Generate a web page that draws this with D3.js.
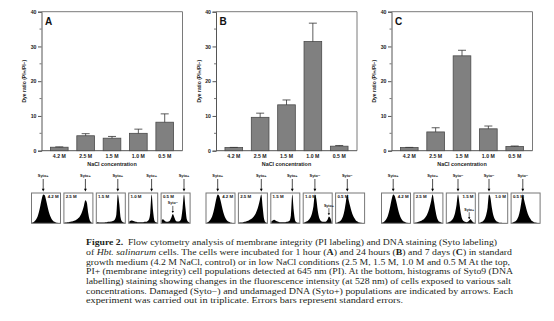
<!DOCTYPE html>
<html><head><meta charset="utf-8">
<script src="https://cdn.jsdelivr.net/npm/d3@7/dist/d3.min.js"></script>
<style>
html,body{margin:0;padding:0;background:#fff;}
svg{display:block;}
text{white-space:pre;}
</style></head>
<body><svg id="fig" width="554" height="321"></svg>
<script>
// ---------- data ----------
const categories = ["4.2 M", "2.5 M", "1.5 M", "1.0 M", "0.5 M"];
const panelLetters = ["A", "B", "C"];
const yTicks = [0, 10, 20, 30, 40];
const yMinorTicks = [5, 15, 25, 35];
const valuesA = [1.0, 4.3, 3.6, 5.0, 8.2];
const errorsA = [0.1, 0.6, 0.5, 1.2, 2.4];
const valuesB = [0.9, 9.6, 13.2, 31.4, 1.3];
const errorsB = [0.05, 1.2, 1.4, 5.3, 0.2];
const valuesC = [0.9, 5.4, 27.3, 6.3, 1.2];
const errorsC = [0.05, 1.2, 1.6, 0.8, 0.15];
const yLabel = "Dye ratio (PI+/PI\u2212)";
const xLabel = "NaCl concentration";

// histogram counts (21 bins across each box), relative heights 0-100
const histA = [
  [2,4,8,14,24,40,62,85,100,98,82,60,40,25,15,9,5,3,2,1,1],
  [3,3,4,4,5,6,7,9,11,14,18,24,32,45,62,80,72,36,12,4,2],
  [4,4,3,3,3,3,4,4,5,5,6,7,9,14,32,100,70,20,6,3,2],
  [6,9,10,8,6,5,4,4,4,4,4,5,5,7,12,35,100,45,10,4,3],
  [10,14,10,6,5,6,10,20,32,22,10,6,6,8,16,52,100,55,14,5,3]
];
const histB = [
  [2,4,8,14,24,40,62,85,100,96,80,58,38,24,14,8,5,3,2,1,1],
  [2,3,3,4,5,6,8,10,13,16,20,26,34,46,62,82,100,55,15,4,2],
  [6,10,12,10,7,5,4,4,4,4,4,5,6,9,28,100,45,10,4,2,2],
  [3,4,6,9,14,22,36,60,100,85,45,20,10,6,5,5,6,12,24,18,4],
  [2,3,5,8,14,25,45,75,100,80,60,42,28,18,11,7,4,3,2,1,1]
];
const histC = [
  [2,4,8,14,24,40,62,85,100,96,80,58,38,24,14,8,5,3,2,1,1],
  [2,3,4,5,7,9,12,16,22,30,42,58,78,100,75,45,22,10,5,3,2],
  [2,3,5,8,13,22,38,65,100,70,35,15,8,5,4,5,10,14,8,3,2],
  [2,3,5,9,16,30,55,100,90,55,30,16,9,5,3,2,2,1,1,1,1],
  [2,3,5,8,14,25,45,75,100,80,60,42,28,18,11,7,4,3,2,1,1]
];
const sytoTopA = ["Syto+","Syto+","Syto+","Syto+","Syto+"];
const sytoTopB = ["Syto+","Syto+","Syto+","Syto\u2212","Syto\u2212"];
const sytoTopC = ["Syto+","Syto+","Syto\u2212","Syto\u2212","Syto\u2212"];
// secondary populations marked inside a box: [box index, bin index, label]
const sytoInnerA = [[4, 8, "Syto\u2212"]];
const sytoInnerB = [[3, 18, "Syto+"]];
const sytoInnerC = [[2, 16, "Syto+"]];

const panels = [
  {letter: panelLetters[0], values: valuesA, errors: errorsA, hist: histA, top: sytoTopA, inner: sytoInnerA},
  {letter: panelLetters[1], values: valuesB, errors: errorsB, hist: histB, top: sytoTopB, inner: sytoInnerB},
  {letter: panelLetters[2], values: valuesC, errors: errorsC, hist: histC, top: sytoTopC, inner: sytoInnerC}
];

// ---------- layout ----------
const axisX = [41.5, 216, 391.5];
const plotW = 141;
const plotTop = 11.7, plotBottom = 150.7;
const labelRight = [false, true, true, true, true]; // per panel overridden below
const labelSides = [
  ["r","l","l","l","l"],
  ["r","l","l","l","l"],
  ["r","l","r","r","l"]
];
const boxTop = 193, boxH = 30.3, boxW = 29, boxStep = 32.4;

const svg = d3.select("#fig");
const sans = "'Liberation Sans', Arial, sans-serif";
const ink = "#1a1a1a";

const y = d3.scaleLinear().domain([0, 40]).range([plotBottom, plotTop]);

panels.forEach((p, pi) => {
  const ax = axisX[pi];
  const g = svg.append("g");
  const x = d3.scaleBand().domain(categories)
    .range([ax + 5, ax + 136]).paddingInner(0.33).paddingOuter(0.15);

  // frame (top & right)
  g.append("path")
    .attr("d", `M${ax},${plotTop}H${ax + plotW}V${plotBottom}`)
    .attr("fill", "none").attr("stroke", "#7a7a7a").attr("stroke-width", 1);

  // y axis
  const yAxis = d3.axisLeft(y).tickValues(yTicks).tickSize(3.5).tickPadding(1.5);
  const ya = g.append("g").attr("transform", `translate(${ax},0)`).call(yAxis);
  ya.select(".domain").attr("stroke", "#555").attr("stroke-width", 1);
  ya.selectAll(".tick line").attr("stroke", "#555");
  ya.selectAll("text").attr("font-family", sans).attr("font-weight", "bold")
    .attr("font-size", 5.2).attr("fill", ink);
  g.selectAll(".minor").data(yMinorTicks).enter().append("line")
    .attr("x1", ax - 2).attr("x2", ax).attr("y1", d => y(d)).attr("y2", d => y(d))
    .attr("stroke", "#555").attr("stroke-width", 0.8);

  // x axis
  const xAxis = d3.axisBottom(x).tickSize(0).tickPadding(4);
  const xa = g.append("g").attr("transform", `translate(0,${plotBottom})`).call(xAxis);
  xa.select(".domain").attr("d", `M${ax},0H${ax + plotW}`).attr("stroke", "#555").attr("stroke-width", 1);
  xa.selectAll("text").attr("font-family", sans).attr("font-weight", "bold")
    .attr("font-size", 5.2).attr("fill", ink);

  // bars
  g.selectAll(".bar").data(p.values).enter().append("rect")
    .attr("x", (d, i) => x(categories[i]))
    .attr("width", x.bandwidth())
    .attr("y", d => y(d))
    .attr("height", d => y(0) - y(d))
    .attr("fill", "#808080").attr("stroke", "#4a4a4a").attr("stroke-width", 0.8);

  // error bars (upper)
  p.values.forEach((v, i) => {
    const cx = x(categories[i]) + x.bandwidth() / 2;
    const top = y(v + p.errors[i]);
    g.append("line").attr("x1", cx).attr("x2", cx).attr("y1", y(v)).attr("y2", top)
      .attr("stroke", "#333").attr("stroke-width", 0.8);
    g.append("line").attr("x1", cx - 4).attr("x2", cx + 4).attr("y1", top).attr("y2", top)
      .attr("stroke", "#333").attr("stroke-width", 0.8);
  });

  // labels
  g.append("text").attr("x", ax + 3.5).attr("y", 24.5).text(p.letter)
    .attr("font-family", sans).attr("font-weight", "bold").attr("font-size", 10).attr("fill", "#111");
  g.append("text").attr("transform", `translate(${ax - 15.5},${(plotTop + plotBottom) / 2}) rotate(-90)`)
    .attr("text-anchor", "middle").text(yLabel)
    .attr("font-family", sans).attr("font-weight", "bold").attr("font-size", 5).attr("fill", ink);
  g.append("text").attr("x", ax + plotW / 2).attr("y", 166).attr("text-anchor", "middle").text(xLabel)
    .attr("font-family", sans).attr("font-weight", "bold").attr("font-size", 5.4).attr("fill", ink);

  // histograms
  const bx0 = ax - 10;
  p.hist.forEach((h, hi) => {
    const bx = bx0 + hi * boxStep;
    const hx = d3.scaleLinear().domain([0, h.length - 1]).range([bx + 0.5, bx + boxW - 0.5]);
    const hy = d3.scaleLinear().domain([0, 100]).range([boxTop + boxH, boxTop + 1.5]);
    const area = d3.area().x((d, i) => hx(i)).y0(hy(0)).y1(d => hy(d)).curve(d3.curveMonotoneX);
    g.append("path").datum(h).attr("d", area).attr("fill", "#000");
    g.append("rect").attr("x", bx).attr("y", boxTop).attr("width", boxW).attr("height", boxH)
      .attr("fill", "none").attr("stroke", "#777").attr("stroke-width", 1);
    const side = labelSides[pi][hi];
    g.append("text")
      .attr("x", side === "r" ? bx + boxW - 1.8 : bx + 1.8)
      .attr("y", boxTop + 5.2)
      .attr("text-anchor", side === "r" ? "end" : "start")
      .text(categories[hi])
      .attr("font-family", sans).attr("font-weight", "bold").attr("font-size", 4.4).attr("fill", "#111");

    // top arrow at main peak
    const peak = d3.maxIndex(h);
    const axp = hx(peak);
    g.append("text").attr("x", axp).attr("y", 177.3).attr("text-anchor", "middle").text(p.top[hi])
      .attr("font-family", sans).attr("font-weight", "bold").attr("font-size", 3.9).attr("fill", "#111");
    g.append("line").attr("x1", axp).attr("x2", axp).attr("y1", 179).attr("y2", 190)
      .attr("stroke", "#000").attr("stroke-width", 0.7);
    g.append("path").attr("d", `M${axp - 1.4},188.8L${axp + 1.4},188.8L${axp},191.6Z`).attr("fill", "#000");

    // inner arrow
    p.inner.filter(d => d[0] === hi).forEach(d => {
      const ix = hx(d[1]);
      const tipY = hy(h[d[1]]) - 1.2;
      g.append("text").attr("x", ix).attr("y", tipY - 8.5).attr("text-anchor", "middle").text(d[2])
        .attr("font-family", sans).attr("font-weight", "bold").attr("font-size", 3.6).attr("fill", "#111");
      g.append("line").attr("x1", ix).attr("x2", ix).attr("y1", tipY - 7).attr("y2", tipY - 1)
        .attr("stroke", "#000").attr("stroke-width", 0.6);
      g.append("path").attr("d", `M${ix - 1.2},${tipY - 2}L${ix + 1.2},${tipY - 2}L${ix},${tipY}Z`).attr("fill", "#000");
    });
  });
});

// ---------- caption ----------
const captionLines = [
  [["Figure 2.", "b"], ["  Flow cytometry analysis of membrane integrity (PI labeling) and DNA staining (Syto labeling)", ""]],
  [["of ", ""], ["Hbt. salinarum", "i"], [" cells. The cells were incubated for 1 hour (", ""], ["A", "b"], [") and 24 hours (", ""], ["B", "b"], [") and 7 days (", ""], ["C", "b"], [") in standard", ""]],
  [["growth medium (4.2 M NaCl, control) or in low NaCl conditions (2.5 M, 1.5 M, 1.0 M and 0.5 M At the top,", ""]],
  [["PI+ (membrane integrity) cell populations detected at 645 nm (PI). At the bottom, histograms of Syto9 (DNA", ""]],
  [["labelling) staining showing changes in the fluorescence intensity (at 528 nm) of cells exposed to various salt", ""]],
  [["concentrations. Damaged (Syto\u2212) and undamaged DNA (Syto+) populations are indicated by arrows. Each", ""]],
  [["experiment was carried out in triplicate. Errors bars represent standard errors.", ""]]
];
const captionWidths = [411, 426, 424, 427, 425, 427, 317];
const cap = svg.append("g");
captionLines.forEach((segs, li) => {
  const t = cap.append("text").attr("x", 86).attr("y", 245.2 + li * 9.67)
    .attr("font-family", "'Liberation Serif', 'Times New Roman', serif")
    .attr("font-size", 8.7).attr("fill", "#231f20")
    .attr("textLength", captionWidths[li]).attr("lengthAdjust", "spacingAndGlyphs");
  segs.forEach(s => {
    t.append("tspan").text(s[0])
      .attr("font-weight", s[1] === "b" ? "bold" : null)
      .attr("font-style", s[1] === "i" ? "italic" : null);
  });
});
</script></body></html>
